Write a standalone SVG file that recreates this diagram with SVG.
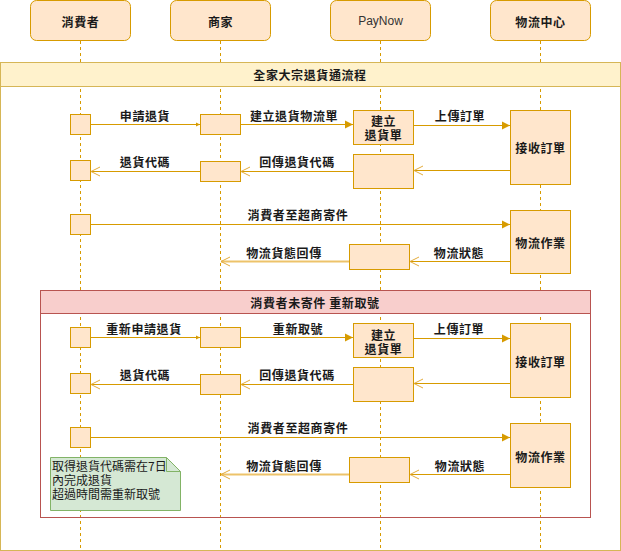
<svg xmlns="http://www.w3.org/2000/svg" width="621" height="551" viewBox="0 0 621 551">
<style>
.life{stroke:#d79b00;stroke-width:1;stroke-dasharray:3 3;fill:none}
.actor{fill:#ffe6cc;stroke:#d79b00;stroke-width:1}
.act{fill:#ffe6cc;stroke:#d79b00;stroke-width:1}
.ln{stroke:#d79b00;stroke-width:1;fill:none}
.lnl{stroke:#edc36a;stroke-width:2;fill:none}
.t{font-family:"Noto Sans CJK TC","Noto Sans CJK SC",sans-serif;font-size:12px;font-weight:bold;fill:#1a1a1a;text-anchor:middle;dominant-baseline:central;letter-spacing:0.6px}
.tn{font-family:"Noto Sans CJK TC","Noto Sans CJK SC",sans-serif;font-size:12px;fill:#1a1a1a;dominant-baseline:central}
.pn{font-family:"Liberation Sans","Noto Sans",sans-serif;font-size:12px;fill:#333333;text-anchor:middle;dominant-baseline:central}
</style>
<defs>
<marker id="blk" markerUnits="userSpaceOnUse" markerWidth="9" markerHeight="9" refX="8" refY="4" orient="auto" overflow="visible">
<path d="M0,0 L8,4 L0,8 Z" fill="#d79b00"/>
</marker>
<marker id="sml" markerUnits="userSpaceOnUse" markerWidth="6" markerHeight="6" refX="4" refY="2" orient="auto" overflow="visible">
<path d="M0,0 L4,2 L0,4 Z" fill="#d79b00"/>
</marker>
<marker id="opn" markerUnits="userSpaceOnUse" markerWidth="10" markerHeight="10" refX="9" refY="4.5" orient="auto" overflow="visible">
<path d="M0,0 L9,4.5 L0,9" fill="none" stroke="#e3ab3c" stroke-width="1"/>
</marker>
</defs>
<rect width="621" height="551" fill="#ffffff"/>

<g id="lifelines">
<line class="life" x1="80.5" y1="41" x2="80.5" y2="548"/>
<line class="life" x1="220.5" y1="41" x2="220.5" y2="548"/>
<line class="life" x1="380.5" y1="41" x2="380.5" y2="548"/>
<line class="life" x1="540.5" y1="41" x2="540.5" y2="548"/>
</g>

<g id="frame-main">
<rect x="0.5" y="62.5" width="620" height="488" fill="none" stroke="#d6b656"/>
<rect x="0.5" y="62.5" width="620" height="24" fill="#fff2cc" stroke="#d6b656"/>
<text class="t" x="310" y="74.5">全家大宗退貨通流程</text>
</g>

<g id="frame-alt">
<rect x="40.5" y="290.5" width="550" height="227" fill="none" stroke="#b85450"/>
<rect x="40.5" y="290.5" width="550" height="23" fill="#f8cecc" stroke="#b85450"/>
<text class="t" x="315" y="302">消費者未寄件 重新取號</text>
</g>

<g id="actor-consumer"><rect class="actor" x="30.5" y="0.5" width="100" height="40" rx="6"/><text class="t" x="80.5" y="21">消費者</text></g>
<g id="actor-merchant"><rect class="actor" x="170.5" y="0.5" width="100" height="40" rx="6"/><text class="t" x="220.5" y="21">商家</text></g>
<g id="actor-paynow"><rect class="actor" x="330.5" y="0.5" width="100" height="40" rx="6"/><text class="pn" x="380.5" y="21">PayNow</text></g>
<g id="actor-logistics"><rect class="actor" x="490.5" y="0.5" width="100" height="40" rx="6"/><text class="t" x="540.5" y="21">物流中心</text></g>

<g id="act-c1"><rect class="act" x="70.5" y="114.5" width="20" height="20"/></g>
<g id="act-m1"><rect class="act" x="200.5" y="114.5" width="40" height="20"/></g>
<g id="act-p1"><rect class="act" x="353.5" y="110.5" width="60" height="34"/><text class="t" x="383.5" y="120"><tspan x="383.5" y="120">建立</tspan><tspan x="383.5" y="133.5">退貨單</tspan></text></g>
<g id="act-l1"><rect class="act" x="510.5" y="110.5" width="60" height="74"/><text class="t" x="540.5" y="147.5">接收訂單</text></g>
<g id="act-c2"><rect class="act" x="70.5" y="160.5" width="20" height="20"/></g>
<g id="act-m2"><rect class="act" x="200.5" y="161.5" width="40" height="20"/></g>
<g id="act-p2"><rect class="act" x="353.5" y="154.5" width="60" height="34"/></g>
<g id="act-c3"><rect class="act" x="70.5" y="214.5" width="20" height="20"/></g>
<g id="act-l2"><rect class="act" x="510.5" y="210.5" width="60" height="63"/><text class="t" x="540.5" y="242">物流作業</text></g>
<g id="act-p3"><rect class="act" x="349.5" y="244.5" width="60" height="25"/></g>

<g id="act-c4"><rect class="act" x="70.5" y="327.5" width="20" height="20"/></g>
<g id="act-m4"><rect class="act" x="200.5" y="327.5" width="40" height="20"/></g>
<g id="act-p4"><rect class="act" x="353.5" y="323.5" width="60" height="34"/><text class="t" x="383.5" y="334"><tspan x="383.5" y="334">建立</tspan><tspan x="383.5" y="347.5">退貨單</tspan></text></g>
<g id="act-l4"><rect class="act" x="510.5" y="323.5" width="60" height="74"/><text class="t" x="540.5" y="361">接收訂單</text></g>
<g id="act-c5"><rect class="act" x="70.5" y="373.5" width="20" height="20"/></g>
<g id="act-m5"><rect class="act" x="200.5" y="374.5" width="40" height="20"/></g>
<g id="act-p5"><rect class="act" x="353.5" y="367.5" width="60" height="34"/></g>
<g id="act-c6"><rect class="act" x="70.5" y="427.5" width="20" height="20"/></g>
<g id="act-l6"><rect class="act" x="510.5" y="423.5" width="60" height="64"/><text class="t" x="540.5" y="456">物流作業</text></g>
<g id="act-p6"><rect class="act" x="349.5" y="457.5" width="60" height="25"/></g>

<g id="note">
<path d="M50.5,457.5 H166.5 L180.5,471.5 V510.5 H50.5 Z" fill="#d5e8d4" stroke="#82b366"/>
<path d="M166.5,457.5 V471.5 H180.5" fill="none" stroke="#82b366"/>
<text class="tn" x="52" y="465"><tspan x="52" y="465">取得退貨代碼需在7日</tspan><tspan x="52" y="479">內完成退貨</tspan><tspan x="52" y="493">超過時間需重新取號</tspan></text>
</g>

<g id="connectors">
<line class="ln" x1="91" y1="124.5" x2="200" y2="124.5" marker-end="url(#sml)"/>
<line class="ln" x1="241" y1="124.5" x2="353" y2="124.5" marker-end="url(#blk)"/>
<line class="ln" x1="414" y1="125.5" x2="510" y2="125.5" marker-end="url(#blk)"/>
<line class="ln" x1="510" y1="170.5" x2="414" y2="170.5" marker-end="url(#opn)"/>
<line class="ln" x1="353" y1="171.5" x2="241" y2="171.5" marker-end="url(#opn)"/>
<line class="ln" x1="200" y1="171.5" x2="91" y2="171.5" marker-end="url(#opn)"/>
<line class="ln" x1="91" y1="224.5" x2="510" y2="224.5" marker-end="url(#blk)"/>
<line class="ln" x1="510" y1="261.5" x2="410" y2="261.5" marker-end="url(#opn)"/>
<line class="lnl" x1="349" y1="261.5" x2="221" y2="261.5" marker-end="url(#opn)"/>

<line class="ln" x1="91" y1="337.5" x2="200" y2="337.5" marker-end="url(#sml)"/>
<line class="ln" x1="241" y1="337.5" x2="353" y2="337.5" marker-end="url(#blk)"/>
<line class="ln" x1="414" y1="338.5" x2="510" y2="338.5" marker-end="url(#blk)"/>
<line class="ln" x1="510" y1="383.5" x2="414" y2="383.5" marker-end="url(#opn)"/>
<line class="ln" x1="353" y1="384.5" x2="241" y2="384.5" marker-end="url(#opn)"/>
<line class="ln" x1="200" y1="384.5" x2="91" y2="384.5" marker-end="url(#opn)"/>
<line class="ln" x1="91" y1="437.5" x2="510" y2="437.5" marker-end="url(#blk)"/>
<line class="ln" x1="510" y1="474.5" x2="410" y2="474.5" marker-end="url(#opn)"/>
<line class="lnl" x1="349" y1="474.5" x2="221" y2="474.5" marker-end="url(#opn)"/>
</g>

<g id="labels">
<text class="t" x="145" y="115">申請退貨</text>
<text class="t" x="294" y="115">建立退貨物流單</text>
<text class="t" x="460" y="115">上傳訂單</text>
<text class="t" x="145" y="161">退貨代碼</text>
<text class="t" x="297" y="161">回傳退貨代碼</text>
<text class="t" x="298" y="214.5">消費者至超商寄件</text>
<text class="t" x="459" y="252">物流狀態</text>
<text class="t" x="284" y="252">物流貨態回傳</text>

<text class="t" x="144" y="328">重新申請退貨</text>
<text class="t" x="298" y="328">重新取號</text>
<text class="t" x="459" y="328">上傳訂單</text>
<text class="t" x="145" y="374">退貨代碼</text>
<text class="t" x="297" y="374">回傳退貨代碼</text>
<text class="t" x="298" y="427">消費者至超商寄件</text>
<text class="t" x="284" y="465">物流貨態回傳</text>
<text class="t" x="460" y="465">物流狀態</text>
</g>
</svg>
